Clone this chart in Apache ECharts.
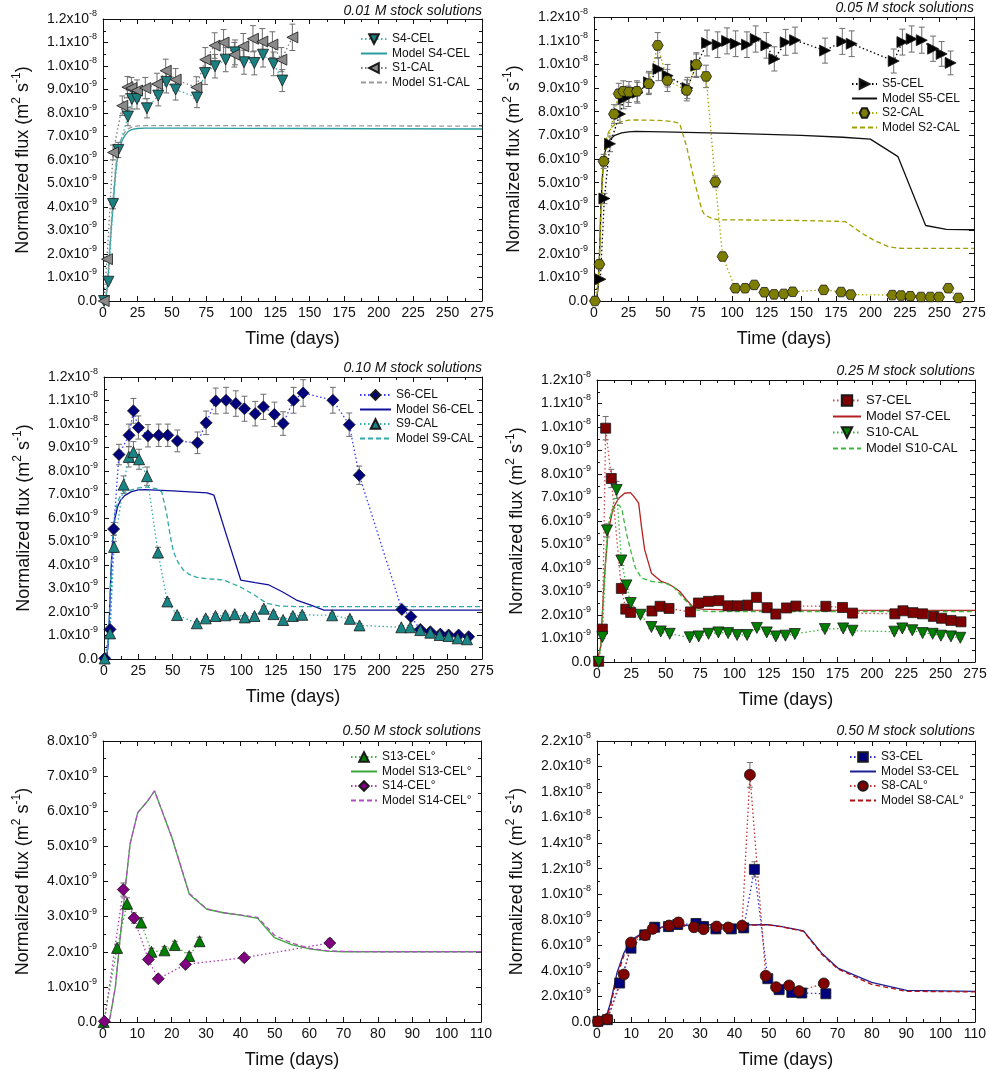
<!DOCTYPE html>
<html>
<head>
<meta charset="utf-8">
<script src="https://cdn.jsdelivr.net/npm/echarts@6/dist/echarts.min.js"></script>
<style>
  html, body { margin: 0; padding: 0; background: #fff; }
  #chart { width: 989px; height: 1074px; }
</style>
</head>
<body>
<div id="chart"></div>
<script>
// Fluxes are stored in units of 1e-9 m² s⁻¹, times in days.
const REL_ERR = 0.05; // relative uncertainty of the measured fluxes

// ---------- 0.01 M stock solutions ----------
const s4celDays = [0.8, 3.9, 7.3, 11.1, 18.1, 21.0, 24.7, 31.9, 40.1, 46.0, 52.7, 68.2, 74.0, 81.3, 89.0, 95.8, 102.3, 109.8, 116.1, 123.8, 130.1];
const s4celFlux = [0.0, 0.82, 4.13, 6.43, 7.85, 8.60, 8.60, 8.20, 8.74, 9.32, 9.00, 8.66, 9.70, 9.99, 10.27, 10.58, 10.16, 10.13, 10.48, 10.09, 9.38];
const s1calDays = [0.5, 2.9, 7.3, 14.0, 17.7, 20.6, 24.7, 30.7, 39.2, 45.5, 52.7, 67.7, 74.2, 81.0, 87.5, 95.3, 101.8, 108.8, 115.6, 122.9, 129.4, 137.4];
const s1calFlux = [0.0, 1.78, 6.32, 8.31, 9.10, 9.06, 8.96, 9.06, 9.23, 9.80, 9.42, 9.09, 10.27, 10.87, 11.00, 10.48, 10.84, 11.16, 11.04, 10.91, 10.27, 11.22];
const modelS4celDays = [0, 1, 2, 3, 4, 5, 6, 7, 8, 9, 10, 11, 12, 14, 16, 18, 20, 22, 25, 30, 40, 60, 100, 150, 200, 275];
const modelS4celFlux = [0, 0.02, 0.1, 0.5, 1.3, 2.2, 3.1, 3.8, 4.6, 5.4, 5.9, 6.25, 6.5, 6.85, 7.05, 7.2, 7.27, 7.31, 7.34, 7.36, 7.36, 7.36, 7.35, 7.34, 7.33, 7.32];
const modelS1calDays = [0, 1, 2, 3, 4, 5, 6, 7, 8, 9, 10, 11, 12, 14, 16, 18, 20, 22, 25, 30, 40, 60, 100, 150, 200, 275];
const modelS1calFlux = [0, 0.03, 0.15, 0.6, 1.5, 2.5, 3.4, 4.1, 4.9, 5.6, 6.1, 6.45, 6.7, 7.0, 7.2, 7.32, 7.38, 7.42, 7.45, 7.46, 7.46, 7.46, 7.46, 7.45, 7.45, 7.44];

// ---------- 0.05 M stock solutions ----------
const s5celDays = [4.6, 7.5, 11.6, 18.8, 21.5, 24.8, 31.5, 39.8, 46.6, 53.3, 67.6, 74.0, 81.8, 89.5, 96.3, 102.5, 110.7, 117.0, 124.7, 130.5, 138.7, 145.5, 167.2, 179.7, 186.5, 216.9, 223.2, 229.9, 237.2, 245.4, 251.6, 258.1];
const s5celFlux = [0.92, 4.33, 6.64, 7.90, 8.55, 8.65, 8.80, 9.24, 9.80, 9.52, 9.00, 9.94, 10.90, 10.83, 10.99, 10.87, 10.83, 11.07, 10.80, 10.23, 10.93, 11.02, 10.58, 10.97, 10.87, 10.14, 10.94, 11.07, 11.02, 10.66, 10.44, 10.06];
const s2calDays = [0.7, 3.9, 7.0, 14.5, 17.9, 21.2, 25.3, 31.1, 39.6, 46.1, 53.1, 67.1, 74.1, 81.1, 87.8, 93.1, 102.3, 109.3, 116.0, 123.3, 130.3, 137.3, 143.8, 166.2, 178.8, 185.8, 215.9, 222.2, 228.9, 236.7, 243.4, 249.7, 256.4, 263.7];
const s2calFlux = [0.0, 1.55, 5.90, 7.90, 8.76, 8.86, 8.83, 8.86, 9.18, 10.80, 9.32, 8.90, 9.99, 9.49, 5.04, 1.88, 0.54, 0.54, 0.68, 0.37, 0.28, 0.30, 0.39, 0.47, 0.38, 0.27, 0.25, 0.23, 0.20, 0.17, 0.17, 0.17, 0.54, 0.13];
const modelS5celDays = [0, 2, 3, 4, 5, 6, 7, 8, 10, 12, 15, 20, 25, 30, 50, 100, 150, 180, 200, 220, 240, 255, 275];
const modelS5celFlux = [0, 0.1, 0.6, 2.0, 4.0, 5.2, 5.9, 6.3, 6.7, 6.85, 7.0, 7.1, 7.15, 7.17, 7.15, 7.08, 7.0, 6.92, 6.84, 6.1, 3.19, 3.03, 3.01];
const modelS2calDays = [0, 2, 3, 4, 5, 6, 7, 8, 10, 12, 15, 20, 25, 30, 40, 50, 58, 62, 67, 73, 78, 80, 85, 90, 120, 150, 175, 182, 194, 203, 213, 220, 240, 275];
const modelS2calFlux = [0, 0.15, 0.7, 2.2, 4.0, 5.3, 6.1, 6.6, 7.05, 7.3, 7.45, 7.58, 7.64, 7.65, 7.64, 7.62, 7.57, 7.5, 6.53, 4.98, 3.85, 3.64, 3.5, 3.43, 3.42, 3.4, 3.37, 3.35, 2.86, 2.55, 2.3, 2.23, 2.22, 2.22];

// ---------- 0.10 M stock solutions ----------
const s6celDays = [0.5, 4.4, 7.0, 10.9, 18.2, 21.4, 25.0, 32.0, 39.8, 46.4, 53.4, 68.0, 74.3, 81.3, 88.8, 95.9, 102.2, 110.0, 116.0, 124.0, 130.3, 137.9, 144.9, 166.5, 178.4, 185.7, 216.7, 223.3, 230.1, 237.4, 244.7, 250.7, 258.0, 265.3];
const s6celFlux = [0.03, 1.26, 5.53, 8.70, 9.52, 10.56, 9.85, 9.50, 9.52, 9.52, 9.28, 9.20, 10.05, 10.98, 11.01, 10.87, 10.65, 10.44, 10.73, 10.41, 10.02, 11.01, 11.32, 11.01, 9.97, 7.82, 2.11, 1.80, 1.26, 1.16, 1.06, 1.02, 1.02, 0.95];
const s9calDays = [0.5, 4.4, 7.3, 14.3, 18.0, 21.4, 25.5, 31.3, 39.3, 46.1, 53.2, 67.5, 74.0, 81.1, 88.3, 95.1, 102.4, 109.5, 116.3, 123.3, 130.3, 137.4, 144.2, 166.0, 178.9, 185.9, 216.3, 222.8, 230.1, 237.4, 244.2, 250.7, 257.3, 264.1];
const s9calFlux = [0.02, 1.09, 4.77, 7.42, 8.60, 8.81, 8.50, 7.78, 4.53, 2.45, 1.87, 1.52, 1.73, 1.83, 1.86, 1.91, 1.77, 1.83, 2.14, 1.91, 1.66, 1.83, 1.88, 1.86, 1.71, 1.43, 1.35, 1.35, 1.23, 1.12, 1.02, 0.98, 0.88, 0.84];
const modelS6celDays = [0, 2, 3, 4, 5, 6, 7, 8, 10, 12, 15, 20, 25, 30, 50, 75, 80, 90, 99.5, 110, 120, 130, 140, 150, 160, 275];
const modelS6celFlux = [0, 0.1, 0.6, 1.9, 3.6, 4.8, 5.5, 6.0, 6.5, 6.75, 6.95, 7.12, 7.2, 7.21, 7.15, 7.07, 6.97, 5.1, 3.36, 3.25, 3.15, 2.85, 2.51, 2.3, 2.08, 2.08];
const modelS9calDays = [0, 2, 3, 4, 5, 6, 7, 8, 10, 12, 15, 20, 25, 31, 38, 42, 45.6, 48, 50.5, 54, 57.8, 62, 67.5, 75, 87, 99, 110, 118.4, 128, 140, 275];
const modelS9calFlux = [0, 0.12, 0.65, 2.0, 3.7, 4.9, 5.7, 6.2, 6.7, 6.95, 7.1, 7.2, 7.28, 7.32, 7.25, 7.11, 6.19, 5.3, 4.56, 4.1, 3.78, 3.6, 3.47, 3.42, 3.36, 3.07, 2.7, 2.37, 2.25, 2.23, 2.23];

// ---------- 0.25 M stock solutions ----------
const s7celDays = [1.2, 3.9, 6.3, 10.4, 17.7, 20.9, 24.5, 40.0, 45.9, 52.4, 68.0, 73.8, 81.1, 88.6, 95.4, 101.9, 109.5, 116.0, 123.8, 130.1, 137.9, 144.7, 166.5, 178.6, 185.9, 216.7, 222.6, 229.9, 236.9, 244.7, 250.7, 257.5, 264.8];
const s7celFlux = [0.03, 1.40, 9.95, 7.81, 3.13, 2.25, 2.11, 2.17, 2.37, 2.28, 2.13, 2.51, 2.58, 2.61, 2.39, 2.39, 2.42, 2.75, 2.31, 2.04, 2.30, 2.38, 2.37, 2.32, 2.08, 2.05, 2.18, 2.10, 2.05, 1.94, 1.86, 1.77, 1.71];
const s10calDays = [1.2, 3.9, 7.3, 14.3, 17.7, 21.4, 24.5, 31.6, 39.6, 46.4, 52.9, 67.5, 74.0, 81.1, 88.3, 95.4, 101.9, 109.2, 116.3, 123.5, 130.1, 137.1, 143.9, 165.8, 179.1, 185.9, 216.3, 222.1, 229.4, 236.9, 244.2, 250.2, 257.5, 264.3];
const s10calFlux = [0.0, 1.06, 5.60, 7.32, 4.32, 3.26, 2.51, 2.01, 1.49, 1.30, 1.20, 1.05, 1.09, 1.20, 1.26, 1.23, 1.15, 1.15, 1.45, 1.26, 1.09, 1.12, 1.19, 1.40, 1.43, 1.33, 1.29, 1.43, 1.35, 1.23, 1.20, 1.12, 1.09, 1.03];
const modelS7celDays = [0, 1, 2.7, 4, 5.6, 8, 11.7, 15.8, 20.1, 24.3, 26.9, 30.3, 32.5, 34.7, 39.6, 46.8, 51.7, 56, 60.2, 65, 69.9, 76, 100, 275];
const modelS7celFlux = [0, 0.05, 0.67, 2.2, 3.78, 5.48, 6.55, 6.97, 7.18, 7.21, 7.04, 6.76, 5.7, 4.77, 3.78, 3.43, 3.33, 3.18, 3.0, 2.65, 2.34, 2.25, 2.21, 2.2];
const modelS10calDays = [0, 1, 2.7, 4, 5.6, 7, 9.2, 12, 14.8, 16.5, 18.2, 21.4, 25, 28, 32.3, 39.6, 49.3, 55.3, 63.8, 71.1, 80.8, 275];
const modelS10calFlux = [0, 0.05, 0.6, 2.1, 3.78, 5.0, 6.12, 6.5, 6.69, 6.65, 6.47, 5.48, 4.63, 4.0, 3.57, 3.43, 3.36, 3.22, 2.65, 2.22, 2.15, 2.15];

// ---------- 0.50 M stock solutions (S13 / S14) ----------
const s13celDays = [0.2, 4.1, 7.0, 11.1, 14.1, 17.9, 20.9, 25.1, 28.1];
const s13celFlux = [0.0, 2.11, 3.37, 2.83, 2.00, 2.04, 2.19, 1.88, 2.30];
const s14celDays = [0.4, 5.9, 9.0, 13.2, 16.1, 24.0, 41.1, 66.0];
const s14celFlux = [0.02, 3.77, 2.96, 1.78, 1.23, 1.64, 1.83, 2.25];
const modelS13celDays = [0, 1, 2, 3.6, 5, 6.5, 7.9, 10.1, 12.8, 15, 20.1, 25.1, 30.2, 35.1, 39.9, 45, 49.9, 54.9, 60.1, 65.1, 70, 80, 90, 110];
const modelS13celFlux = [0, 0, 0.1, 1.0, 2.4, 3.85, 5.08, 5.96, 6.27, 6.58, 5.23, 3.64, 3.21, 3.11, 3.04, 2.95, 2.4, 2.2, 2.08, 2.02, 2.0, 2.0, 2.0, 2.0];
const modelS14celDays = [0, 1, 2, 3.6, 5, 6.5, 7.9, 10.1, 12.8, 15, 20.1, 25.1, 30.2, 35.1, 39.9, 45, 49.9, 54.9, 60.1, 65.1, 70, 80, 90, 110];
const modelS14celFlux = [0, 0, 0.1, 1.0, 2.4, 3.85, 5.08, 5.96, 6.27, 6.58, 5.25, 3.66, 3.22, 3.11, 3.05, 2.98, 2.47, 2.25, 2.1, 2.03, 2.01, 2.0, 2.0, 2.0];

// ---------- 0.50 M stock solutions (S3 / S8) ----------
const s3celDays = [0.3, 3.0, 6.6, 9.9, 13.9, 16.8, 20.8, 23.5, 28.8, 31.0, 34.6, 39.1, 42.7, 45.8, 49.7, 53.0, 56.7, 59.6, 66.6];
const s3celFlux = [0.05, 0.18, 3.05, 5.78, 6.82, 7.42, 7.47, 7.63, 7.71, 7.47, 7.29, 7.29, 7.37, 11.95, 3.39, 2.53, 2.32, 2.27, 2.21];
const s8calDays = [0.3, 3.0, 7.8, 9.9, 14.0, 16.2, 21.0, 23.7, 28.2, 31.0, 34.8, 38.2, 42.2, 44.5, 49.1, 52.1, 55.9, 58.8, 66.0];
const s8calFlux = [0.05, 0.23, 3.72, 6.22, 6.80, 7.29, 7.55, 7.79, 7.42, 7.27, 7.47, 7.40, 7.53, 19.35, 3.62, 2.73, 2.86, 2.42, 3.02];
const modelS3celDays = [0, 2.4, 3.9, 5.8, 7.8, 10, 13.1, 16, 19.9, 24.7, 30, 40.2, 49.7, 53.8, 60.1, 65.4, 70.1, 79.9, 90.1, 110];
const modelS3celFlux = [0, 0.18, 1.48, 3.83, 5.39, 6.43, 6.95, 7.27, 7.47, 7.55, 7.6, 7.6, 7.63, 7.47, 7.14, 5.39, 4.22, 3.1, 2.47, 2.4];
const modelS8calDays = [0, 2.4, 3.9, 5.8, 7.8, 10, 13.1, 16, 19.9, 24.7, 30, 40.2, 49.7, 53.8, 60.1, 65.4, 70.1, 79.9, 90.1, 110];
const modelS8calFlux = [0, 0.15, 1.2, 3.5, 5.2, 6.3, 6.9, 7.22, 7.42, 7.5, 7.55, 7.57, 7.6, 7.45, 7.1, 5.3, 4.15, 2.95, 2.4, 2.36];

// ---------- drawing ----------
const FONT = '"Liberation Sans", Arial, Helvetica, sans-serif';
const INK = '#111';
const HEXAGON = 'path://M-1,0L-0.5,-0.866L0.5,-0.866L1,0L0.5,0.866L-0.5,0.866Z';

function measured(name, days, flux, style) { return Object.assign({ name, kind: 'data', days, flux }, style); }
function model(name, days, flux, style) { return Object.assign({ name, kind: 'model', days, flux }, style); }

const panels = [
  {
    title: '0.01 M stock solutions', titleTop: 4,
    grid: { left: 103, top: 19, width: 379, height: 282 },
    x: { max: 275, step: 25 }, y: { max: 12, step: 1 },
    legend: { left: 360, top: 33, fontSize: 12, itemHeight: 12, gap: 2.5, itemWidth: 26 },
    series: [
      measured('S4-CEL', s4celDays, s4celFlux, { color: '#1b7f7f', line: '#3fb8b8', symbol: 'triangle', rotate: 180, size: 11 }),
      model('Model S4-CEL', modelS4celDays, modelS4celFlux, { line: '#2a9c9c' }),
      measured('S1-CAL', s1calDays, s1calFlux, { color: '#8a8a8a', line: '#7a7a7a', symbol: 'triangle', rotate: 90, size: 11 }),
      model('Model S1-CAL', modelS1calDays, modelS1calFlux, { line: '#9a9a9a', dashed: true })
    ]
  },
  {
    title: '0.05 M stock solutions', titleTop: 1,
    grid: { left: 594, top: 17, width: 380, height: 284 },
    x: { max: 275, step: 25 }, y: { max: 12, step: 1 },
    legend: { left: 851, top: 78, fontSize: 12, itemHeight: 12, gap: 2.5, itemWidth: 25 },
    series: [
      measured('S5-CEL', s5celDays, s5celFlux, { color: '#000000', line: '#000000', symbol: 'triangle', rotate: -90, size: 11 }),
      model('Model S5-CEL', modelS5celDays, modelS5celFlux, { line: '#111111' }),
      measured('S2-CAL', s2calDays, s2calFlux, { color: '#7d7d00', line: '#a8a800', symbol: HEXAGON, rotate: 0, size: 11 }),
      model('Model S2-CAL', modelS2calDays, modelS2calFlux, { line: '#a0a000', dashed: true })
    ]
  },
  {
    title: '0.10 M stock solutions', titleTop: 361,
    grid: { left: 104, top: 377, width: 378, height: 282 },
    x: { max: 275, step: 25 }, y: { max: 12, step: 1 },
    legend: { left: 359, top: 389, fontSize: 12, itemHeight: 12, gap: 2.5, itemWidth: 31 },
    series: [
      measured('S6-CEL', s6celDays, s6celFlux, { color: '#00007f', line: '#3a3aff', symbol: 'diamond', rotate: 0, size: 12 }),
      model('Model S6-CEL', modelS6celDays, modelS6celFlux, { line: '#10109a' }),
      measured('S9-CAL', s9calDays, s9calFlux, { color: '#1a8585', line: '#30b0b0', symbol: 'triangle', rotate: 0, size: 11 }),
      model('Model S9-CAL', modelS9calDays, modelS9calFlux, { line: '#30a8a8', dashed: true })
    ]
  },
  {
    title: '0.25 M stock solutions', titleTop: 364,
    grid: { left: 597, top: 380, width: 378, height: 282 },
    x: { max: 275, step: 25 }, y: { max: 12, step: 1 },
    legend: { left: 832, top: 394, fontSize: 13, itemHeight: 13, gap: 3, itemWidth: 28 },
    series: [
      measured('S7-CEL', s7celDays, s7celFlux, { color: '#7f0000', line: '#d04a4a', symbol: 'rect', rotate: 0, size: 10 }),
      model('Model S7-CEL', modelS7celDays, modelS7celFlux, { line: '#b32020' }),
      measured('S10-CAL', s10calDays, s10calFlux, { color: '#007f00', line: '#33b833', symbol: 'triangle', rotate: 180, size: 11 }),
      model('Model S10-CAL', modelS10calDays, modelS10calFlux, { line: '#3cb83c', dashed: true })
    ]
  },
  {
    title: '0.50 M stock solutions', titleTop: 724,
    grid: { left: 103, top: 741, width: 378, height: 281 },
    x: { max: 110, step: 10 }, y: { max: 8, step: 1 },
    legend: { left: 350, top: 751, fontSize: 12, itemHeight: 12, gap: 2.5, itemWidth: 26 },
    series: [
      measured('S13-CEL°', s13celDays, s13celFlux, { color: '#008000', line: '#3cb33c', symbol: 'triangle', rotate: 0, size: 11 }),
      model('Model S13-CEL°', modelS13celDays, modelS13celFlux, { line: '#3aa83a' }),
      measured('S14-CEL°', s14celDays, s14celFlux, { color: '#800080', line: '#b03cb0', symbol: 'diamond', rotate: 0, size: 12 }),
      model('Model S14-CEL°', modelS14celDays, modelS14celFlux, { line: '#b050c0', dashed: true })
    ]
  },
  {
    title: '0.50 M stock solutions', titleTop: 724,
    grid: { left: 597, top: 741, width: 378, height: 281 },
    x: { max: 110, step: 10 }, y: { max: 22, step: 2 },
    legend: { left: 849, top: 751, fontSize: 12, itemHeight: 12, gap: 2.5, itemWidth: 26 },
    series: [
      measured('S3-CEL', s3celDays, s3celFlux, { color: '#00007f', line: '#3030d0', symbol: 'rect', rotate: 0, size: 10 }),
      model('Model S3-CEL', modelS3celDays, modelS3celFlux, { line: '#202090' }),
      measured('S8-CAL°', s8calDays, s8calFlux, { color: '#800000', line: '#c03030', symbol: 'circle', rotate: 0, size: 11 }),
      model('Model S8-CAL°', modelS8calDays, modelS8calFlux, { line: '#b01010', dashed: true })
    ]
  }
];

// Tick label in the form "1.2x10^-8" / "9.0x10^-9"
function sciLabel(v) {
  const r = Math.round(v * 1000) / 1000;
  if (r === 0) return '{m|0.0}';
  if (r >= 10) return '{m|' + (r / 10).toFixed(1) + 'x10}{e|-8}';
  return '{m|' + r.toFixed(1) + 'x10}{e|-9}';
}

const tickStyle = {
  axisLine: { show: true, onZero: false, lineStyle: { color: INK, width: 1 } },
  axisTick: { show: true, inside: true, length: 5, lineStyle: { color: INK, width: 1 } },
  minorTick: { show: true, splitNumber: 2, length: 3, lineStyle: { color: INK, width: 1 } },
  splitLine: { show: false },
  minorSplitLine: { show: false }
};

function errorBars(name, days, flux, xi, yi) {
  return {
    type: 'custom', name: name + ' ±', xAxisIndex: xi, yAxisIndex: yi, z: 3, silent: true,
    data: days.map((d, k) => [d, flux[k], flux[k] * REL_ERR]),
    encode: { x: 0, y: 1 },
    renderItem: function (params, api) {
      const x = api.value(0), y = api.value(1), e = api.value(2);
      const hi = api.coord([x, y + e]), lo = api.coord([x, y - e]);
      const cap = 3, st = { stroke: '#6e6e6e', lineWidth: 1 };
      return {
        type: 'group', children: [
          { type: 'line', shape: { x1: hi[0], y1: hi[1], x2: lo[0], y2: lo[1] }, style: st },
          { type: 'line', shape: { x1: hi[0] - cap, y1: hi[1], x2: hi[0] + cap, y2: hi[1] }, style: st },
          { type: 'line', shape: { x1: lo[0] - cap, y1: lo[1], x2: lo[0] + cap, y2: lo[1] }, style: st }
        ]
      };
    }
  };
}

const option = {
  animation: false, backgroundColor: '#ffffff',
  textStyle: { fontFamily: FONT },
  title: [], legend: [], grid: [], xAxis: [], yAxis: [], series: []
};

panels.forEach(function (p, i) {
  option.grid.push(Object.assign({ containLabel: false, outerBoundsMode: 'none' }, p.grid));
  option.title.push({
    text: p.title, right: 989 - (p.grid.left + p.grid.width), top: p.titleTop, padding: 0,
    textStyle: { fontSize: 14, fontStyle: 'italic', fontWeight: 'normal', color: INK, fontFamily: FONT }
  });

  const xBase = { gridIndex: i, type: 'value', min: 0, max: p.x.max, interval: p.x.step };
  const yBase = { gridIndex: i, type: 'value', min: 0, max: p.y.max, interval: p.y.step };

  option.xAxis.push(Object.assign({}, xBase, tickStyle, {
    position: 'bottom',
    axisLabel: { fontSize: 14, color: INK, margin: 5, fontFamily: FONT, showMaxLabel: true, showMinLabel: true },
    name: 'Time (days)', nameLocation: 'middle', nameGap: 29,
    nameTextStyle: { fontSize: 18, color: INK, fontFamily: FONT }
  }));
  option.xAxis.push(Object.assign({}, xBase, tickStyle, { position: 'top', axisLabel: { show: false } }));

  option.yAxis.push(Object.assign({}, yBase, tickStyle, {
    position: 'left',
    axisLabel: {
      formatter: sciLabel, margin: 6, showMaxLabel: true, showMinLabel: true,
      rich: {
        m: { fontSize: 14, color: INK, fontFamily: FONT },
        e: { fontSize: 9, color: INK, fontFamily: FONT, padding: [0, 0, 11, 0] }
      }
    },
    name: '{t|Normalized flux (m}{s|2}{t| s}{s|-1}{t|)}',
    nameLocation: 'middle', nameGap: 68, nameRotate: 90,
    nameTextStyle: {
      rich: {
        t: { fontSize: 18, color: INK, fontFamily: FONT },
        s: { fontSize: 12, color: INK, fontFamily: FONT, padding: [0, 0, 12, 0] }
      }
    }
  }));
  option.yAxis.push(Object.assign({}, yBase, tickStyle, { position: 'right', axisLabel: { show: false } }));

  const xi = 2 * i, yi = 2 * i;
  p.series.forEach(function (s) {
    const pts = s.days.map((d, k) => [d, s.flux[k]]);
    if (s.kind === 'data') {
      option.series.push(errorBars(s.name, s.days, s.flux, xi, yi));
      option.series.push({
        type: 'line', name: s.name, xAxisIndex: xi, yAxisIndex: yi, z: 4, data: pts,
        symbol: s.symbol, symbolSize: s.size, symbolRotate: s.rotate, symbolKeepAspect: true,
        showSymbol: true, showAllSymbol: true, clip: false,
        itemStyle: { color: s.color, borderColor: '#1a1a1a', borderWidth: 0.8 },
        lineStyle: { color: s.line, width: 1.3, type: [1.5, 2.5] },
        emphasis: { disabled: true }
      });
    } else {
      option.series.push({
        type: 'line', name: s.name, xAxisIndex: xi, yAxisIndex: yi, z: 2, data: pts,
        symbol: 'none', showSymbol: false,
        itemStyle: { color: s.line },
        lineStyle: { color: s.line, width: 1.3, type: s.dashed ? [5, 3] : 'solid' },
        emphasis: { disabled: true }
      });
    }
  });

  option.legend.push({
    orient: 'vertical', left: p.legend.left, top: p.legend.top, padding: 0,
    itemWidth: p.legend.itemWidth, itemHeight: p.legend.itemHeight, itemGap: p.legend.gap,
    selectedMode: false,
    textStyle: { fontSize: p.legend.fontSize, color: INK, fontFamily: FONT },
    data: p.series.map(function (s) {
      return s.kind === 'model'
        ? { name: s.name, itemStyle: { opacity: 0, color: 'rgba(0,0,0,0)', borderWidth: 0 } }
        : { name: s.name };
    })
  });
});

const chart = echarts.init(document.getElementById('chart'), null, { renderer: 'canvas' });
chart.setOption(option);
</script>
</body>
</html>
